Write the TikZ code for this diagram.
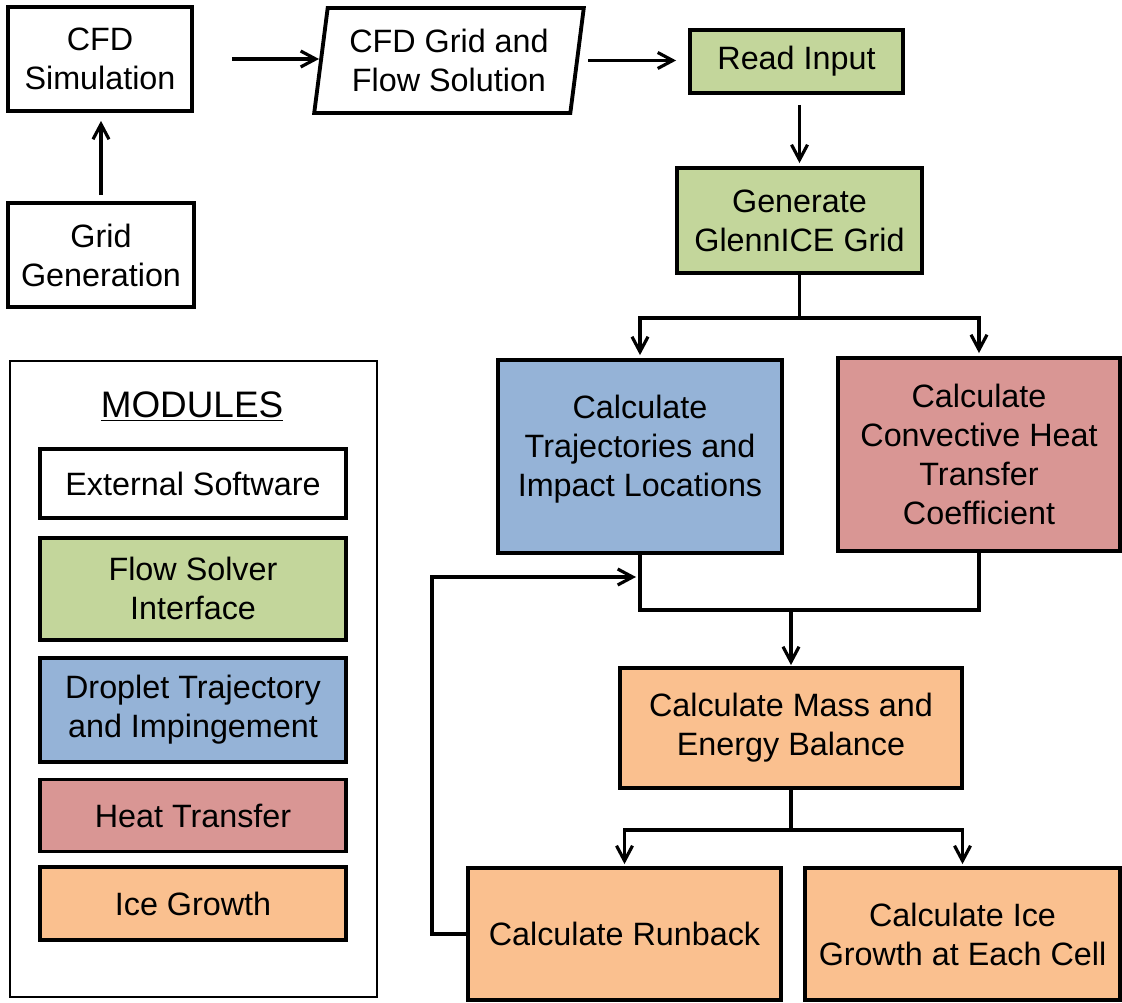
\documentclass[tikz,border=0pt]{standalone}
\usepackage{fontspec}
\setmainfont{Liberation Sans}
\usepackage{xcolor}
\usepackage{tikz}
\usetikzlibrary{arrows.meta,positioning,shapes.geometric}
\definecolor{Solver}{HTML}{C3D69B}
\definecolor{Droplet}{HTML}{95B3D7}
\definecolor{Heat}{HTML}{D99694}
\definecolor{Ice}{HTML}{FAC08F}

\begin{document}
\begin{tikzpicture}[x=0.02cm,y=-0.02cm,
  every node/.style={font=\fontsize{18.4}{22.2}\selectfont,align=center,inner sep=0pt},
  box/.style={draw=black,line width=2.2pt},
  legbox/.style={box,minimum width=6.12cm},
  wire/.style={line width=1.8pt},
  arr/.style={wire,-{Straight Barb[length=3mm,width=3.2mm]}}
]
\useasboundingbox (0,0) rectangle (1122,1003);
% external software
\node[box,minimum width=3.68cm,minimum height=2.08cm] (sim) at (100,59) {CFD\\Simulation};
\node[box,minimum width=3.72cm,minimum height=2.08cm] (grid) at (101,255) {Grid\\Generation};
\node[box,trapezium,trapezium left angle=80,trapezium right angle=100,trapezium stretches=true,
  minimum width=5.4cm,minimum height=2.1cm] (cfdgrid) at (449,60.5) {CFD Grid and\\Flow Solution};
% glennice modules
\node[box,fill=Solver,minimum width=4.26cm,minimum height=1.26cm] (read) at (796.5,61.5) {Read Input};
\node[box,fill=Solver,minimum width=4.9cm,minimum height=2.1cm] (gen) at (799.5,220.5) {Generate\\GlennICE Grid};
\node[box,fill=Droplet,minimum width=5.68cm,minimum height=3.86cm] (traj) at (640,456.5) {};
\node (trajtext) at (640,449) {Calculate\\Trajectories and\\Impact Locations};
\node[box,fill=Heat,minimum width=5.64cm,minimum height=3.86cm] (conv) at (979,454.5) {Calculate\\Convective Heat\\Transfer\\Coefficient};
\node[box,fill=Ice,minimum width=6.84cm,minimum height=2.4cm] (mass) at (791,728) {Calculate Mass and\\Energy Balance};
\node[box,fill=Ice,minimum width=6.26cm,minimum height=2.64cm] (runback) at (624.5,934) {Calculate Runback};
\node[box,fill=Ice,minimum width=6.3cm,minimum height=2.64cm] (icegrowth) at (962.5,934) {Calculate Ice\\Growth at Each Cell};
% legend
\node[draw,line width=0.8pt,minimum width=7.34cm,minimum height=12.72cm] (legend) at (193.5,679) {};
\node[font=\fontsize{21}{25}\selectfont] (modtitle) at (192,407) {\underline{MODULES}};
\node[legbox,minimum height=1.38cm] (lext) at (193,483.5) {External Software};
\node[legbox,fill=Solver,minimum height=2.04cm,below=0.32cm of lext] (lflow) {Flow Solver\\Interface};
\node[legbox,fill=Droplet,minimum height=2.08cm,below=0.28cm of lflow] (ldrop) {Droplet Trajectory\\and Impingement};
\node[legbox,fill=Heat,minimum height=1.44cm,below=0.28cm of ldrop] (lheat) {Heat Transfer};
\node[legbox,fill=Ice,minimum height=1.46cm,below=0.24cm of lheat] (lice) {Ice Growth};
% connectors
\coordinate (join) at (791,610);
\coordinate (back) at (432,577);
\draw[arr,shorten <=0.12cm,shorten >=0.16cm] (grid.north) -- (grid.north |- sim.south);
\draw[arr,shorten <=0.76cm] (sim.east) -- (sim.east -| cfdgrid.west);
\draw[arr,shorten <=0.18cm,shorten >=0.24cm] (cfdgrid.east) -- (cfdgrid.east -| read.west);
\draw[arr,shorten <=0.2cm,shorten >=0.06cm] (gen.north |- read.south) -- (gen.north);
\draw[wire] (gen.south) -- ++(0,43) coordinate (fork1);
\draw[arr,shorten >=0.06cm] (fork1) -| (traj.north);
\draw[arr,shorten >=0.06cm] (fork1) -| (conv.north);
\draw[wire] (traj.south) |- (join) -| (conv.south);
\draw[arr,shorten >=0.02cm] (join) -- (mass.north);
\draw[arr,shorten >=0.08cm] (runback.west) -- (runback.west -| back) -- (back) -- (traj.south |- back);
\draw[wire] (mass.south) -- ++(0,40) coordinate (fork2);
\draw[arr,shorten >=0.04cm] (fork2) -| (runback.north);
\draw[arr,shorten >=0.04cm] (fork2) -| (icegrowth.north);
\end{tikzpicture}
\end{document}
